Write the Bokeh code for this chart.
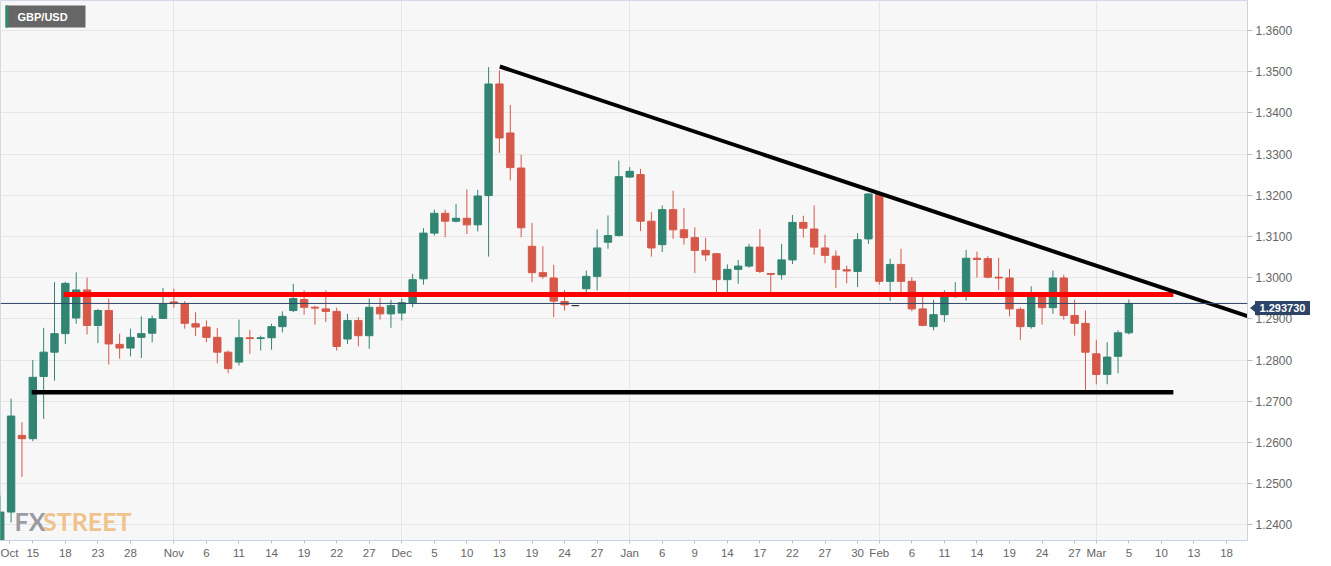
from bokeh.plotting import figure
from bokeh.models import (ColumnDataSource, FixedTicker, Label, BoxAnnotation, Span,
                          Range1d, NumeralTickFormatter, Div)
from bokeh.layouts import column
from bokeh.embed import file_html
from bokeh.resources import INLINE

# ---- data (daily candles, trading-day index) ----
opens = [1.2205, 1.2431, 1.2617, 1.2609, 1.2760, 1.2819, 1.2864, 1.2902, 1.2970, 1.2884,
         1.2920, 1.2838, 1.2829, 1.2855, 1.2865, 1.2901, 1.2941, 1.2936, 1.2888, 1.2880,
         1.2855, 1.2819, 1.2795, 1.2854, 1.2852, 1.2854, 1.2881, 1.2920, 1.2947, 1.2928,
         1.2924, 1.2918, 1.2851, 1.2896, 1.2859, 1.2928, 1.2912, 1.2914, 1.2939, 1.2997,
         1.3108, 1.3156, 1.3137, 1.3144, 1.3128, 1.3199, 1.3470, 1.3351, 1.3266, 1.3076,
         1.3012, 1.2999, 1.2942, 1.2932, 1.2973, 1.3003, 1.3086, 1.3102, 1.3244, 1.3250,
         1.3137, 1.3080, 1.3165, 1.3116, 1.3097, 1.3066, 1.3058, 1.2995, 1.3020, 1.3028,
         1.3074, 1.3010, 1.3007, 1.3043, 1.3134, 1.3118, 1.3072, 1.3052, 1.3019, 1.3015,
         1.3094, 1.3203, 1.2991, 1.3032, 1.2991, 1.2924, 1.2881, 1.2910, 1.2954, 1.2960,
         1.3047, 1.3046, 1.3001, 1.2999, 1.2923, 1.2881, 1.2954, 1.2927, 1.2999, 1.2908,
         1.2889, 1.2815, 1.2765, 1.2809, 1.2866]
highs = [1.2471, 1.2706, 1.2649, 1.2800, 1.2878, 1.2989, 1.2990, 1.3013, 1.3000, 1.2924,
         1.2949, 1.2864, 1.2876, 1.2906, 1.2908, 1.2975, 1.2973, 1.2943, 1.2916, 1.2896,
         1.2878, 1.2823, 1.2898, 1.2873, 1.2859, 1.2888, 1.2918, 1.2985, 1.2969, 1.2932,
         1.2969, 1.2927, 1.2912, 1.2904, 1.2949, 1.2951, 1.2946, 1.2949, 1.3009, 1.3120,
         1.3165, 1.3165, 1.3179, 1.3214, 1.3213, 1.3511, 1.3503, 1.3419, 1.3298, 1.3133,
         1.3076, 1.3031, 1.2970, 1.2932, 1.3017, 1.3117, 1.3151, 1.3284, 1.3268, 1.3264,
         1.3159, 1.3175, 1.3211, 1.3169, 1.3122, 1.3097, 1.3059, 1.3032, 1.3043, 1.3082,
         1.3118, 1.3011, 1.3082, 1.3152, 1.3150, 1.3175, 1.3104, 1.3066, 1.3029, 1.3108,
         1.3205, 1.3207, 1.3046, 1.3070, 1.3001, 1.2957, 1.2946, 1.2969, 1.2989, 1.3067,
         1.3063, 1.3052, 1.3048, 1.3021, 1.2928, 1.2979, 1.2965, 1.3017, 1.3007, 1.2946,
         1.2920, 1.2849, 1.2843, 1.2872, 1.2947]
lows = [1.2195, 1.2406, 1.2516, 1.2603, 1.2657, 1.2750, 1.2839, 1.2888, 1.2862, 1.2841,
        1.2789, 1.2803, 1.2809, 1.2805, 1.2843, 1.2900, 1.2927, 1.2876, 1.2858, 1.2843,
        1.2792, 1.2768, 1.2787, 1.2815, 1.2823, 1.2825, 1.2867, 1.2916, 1.2910, 1.2886,
        1.2892, 1.2823, 1.2839, 1.2833, 1.2827, 1.2898, 1.2878, 1.2896, 1.2928, 1.2983,
        1.3102, 1.3098, 1.3134, 1.3106, 1.3112, 1.3051, 1.3303, 1.3236, 1.3098, 1.2989,
        1.2997, 1.2904, 1.2920, 1.2932, 1.2965, 1.2969, 1.3070, 1.3100, 1.3242, 1.3113,
        1.3051, 1.3062, 1.3094, 1.3080, 1.3011, 1.3040, 1.2961, 1.2954, 1.2985, 1.3024,
        1.3011, 1.2965, 1.2995, 1.3033, 1.3097, 1.3056, 1.3035, 1.2975, 1.2986, 1.2977,
        1.3082, 1.2983, 1.2943, 1.2965, 1.2918, 1.2882, 1.2872, 1.2892, 1.2951, 1.2944,
        1.3000, 1.2998, 1.2970, 1.2906, 1.2849, 1.2876, 1.2886, 1.2912, 1.2898, 1.2859,
        1.2724, 1.2741, 1.2741, 1.2768, 1.2862]
closes = [1.2431, 1.2664, 1.2609, 1.2758, 1.2819, 1.2864, 1.2986, 1.2970, 1.2884, 1.2920,
          1.2839, 1.2829, 1.2855, 1.2864, 1.2900, 1.2936, 1.2937, 1.2889, 1.2880, 1.2855,
          1.2819, 1.2779, 1.2854, 1.2852, 1.2854, 1.2881, 1.2906, 1.2949, 1.2928, 1.2926,
          1.2918, 1.2833, 1.2896, 1.2859, 1.2928, 1.2912, 1.2932, 1.2939, 1.2995, 1.3108,
          1.3156, 1.3137, 1.3144, 1.3128, 1.3198, 1.3470, 1.3339, 1.3267, 1.3121, 1.3012,
          1.3003, 1.2943, 1.2934, 1.2932, 1.3003, 1.3072, 1.3102, 1.3245, 1.3258, 1.3137,
          1.3072, 1.3165, 1.3116, 1.3097, 1.3066, 1.3055, 1.2995, 1.3020, 1.3028, 1.3074,
          1.3015, 1.3008, 1.3043, 1.3134, 1.3120, 1.3074, 1.3054, 1.3020, 1.3016, 1.3092,
          1.3203, 1.2991, 1.3032, 1.2991, 1.2924, 1.2884, 1.2910, 1.2954, 1.2960, 1.3047,
          1.3044, 1.3001, 1.2999, 1.2924, 1.2881, 1.2954, 1.2927, 1.2999, 1.2908, 1.2889,
          1.2819, 1.2765, 1.2807, 1.2866, 1.29373]

x_tick_idx = [0.85, 3, 6, 9, 12, 16, 19, 22, 25, 28, 31, 34, 37, 40, 43, 46, 49, 52, 55, 58,
              61, 64, 67, 70, 73, 76, 79, 81, 84, 87, 90, 93, 96, 99, 101, 104, 107, 110, 113]
x_tick_labels = ["Oct", "15", "18", "23", "28", "Nov", "6", "11", "14", "19", "22", "27",
                 "Dec", "5", "10", "13", "19", "24", "27", "Jan", "6", "9", "14", "17", "22",
                 "27", "30", "Feb", "6", "11", "14", "19", "24", "27", "Mar", "5", "10", "13", "18"]
month_idx = [16, 37, 58, 81, 101]
y_ticks = [1.24, 1.25, 1.26, 1.27, 1.28, 1.29, 1.30, 1.31, 1.32, 1.33, 1.34, 1.35, 1.36]

# drawn analysis lines
resistance_level = 1.2959
resistance_span = [5.85, 108.1]
support_level = 1.2722
support_span = [2.9, 108.1]
trend_x = [46.03, 114.93]
trend_y = [1.35124, 1.29063]

GREEN = "#318572"
RED = "#d65848"
DOJI = "#333333"
NAVY = "#2c4466"

Y_MIN, Y_MAX = 1.23619, 1.36726
PLOT_H, FRAME_H = 566, 540

idx = list(range(len(opens)))
colors = [GREEN if c > o else (RED if c < o else DOJI) for o, c in zip(opens, closes)]
src = ColumnDataSource(dict(
    x=idx, h=highs, l=lows,
    top=[max(o, c) for o, c in zip(opens, closes)],
    bottom=[min(o, c) for o, c in zip(opens, closes)],
    color=colors))

p = figure(width=1331, height=PLOT_H, output_backend="svg", toolbar_location=None,
           x_range=Range1d(0.024, 114.93), y_range=Range1d(Y_MIN, Y_MAX),
           min_border_left=0, min_border_right=84, min_border_top=0, min_border_bottom=26,
           background_fill_color="#f7f7f7", border_fill_color="white",
           outline_line_color="#d3d9e6", y_axis_location="right")

# axes
p.yaxis.ticker = FixedTicker(ticks=y_ticks)
p.yaxis.formatter = NumeralTickFormatter(format="0.0000")
p.yaxis.major_label_text_font_size = "12px"
p.yaxis.major_label_text_font = "Liberation Sans"
p.yaxis.major_label_text_color = "#666666"
p.yaxis.major_tick_out = 5
p.yaxis.major_tick_in = 0
p.yaxis.minor_tick_line_color = None
p.yaxis.axis_line_color = "#ccd3e0"
p.yaxis.major_tick_line_color = "#b9c0cc"
p.yaxis.major_label_standoff = 3

p.xaxis.ticker = FixedTicker(ticks=x_tick_idx)
p.xaxis.major_label_overrides = {t: lab for t, lab in zip(x_tick_idx, x_tick_labels)}
p.xaxis.major_label_text_font_size = "11.5px"
p.xaxis.major_label_text_font = "Liberation Sans"
p.xaxis.major_label_text_color = "#666666"
p.xaxis.major_tick_out = 3
p.xaxis.major_tick_in = 0
p.xaxis.minor_tick_line_color = None
p.xaxis.axis_line_color = "#ccd3e0"
p.xaxis.major_tick_line_color = "#b9c0cc"
p.xaxis.major_label_standoff = 3

p.ygrid.grid_line_color = "#e6e6e6"
p.xgrid.ticker = FixedTicker(ticks=month_idx)
p.xgrid.grid_line_color = "#e6e6e6"

# candles
p.segment(x0="x", y0="h", x1="x", y1="l", line_color="color", line_width=1, source=src)
p.vbar(x="x", width=0.68, top="top", bottom="bottom", fill_color="color",
       line_color="color", line_width=1, source=src)

# current price line
p.add_layout(Span(location=closes[-1], dimension="width", line_color=NAVY, line_width=1))

# analysis lines
p.line(resistance_span, [resistance_level, resistance_level], line_color="#ff0000", line_width=5)
p.line(support_span, [support_level, support_level], line_color="#000000", line_width=4.5)
p.line(trend_x, trend_y, line_color="#000000", line_width=4)

# title tag
p.add_layout(BoxAnnotation(left=5, right=85, top=535, bottom=513,
                           left_units="screen", right_units="screen",
                           top_units="screen", bottom_units="screen",
                           fill_color="#666666", fill_alpha=1, line_color=None))
p.add_layout(BoxAnnotation(left=5, right=8, top=535, bottom=513,
                           left_units="screen", right_units="screen",
                           top_units="screen", bottom_units="screen",
                           fill_color="#2e8b6e", fill_alpha=1, line_color=None))
p.add_layout(Label(x=17, y=524, x_units="screen", y_units="screen", text="GBP/USD",
                   text_font_size="11px", text_font_style="bold", text_font="Liberation Sans",
                   text_color="white", text_baseline="middle"))

# watermark
p.add_layout(Label(x=14, y=20, x_units="screen", y_units="screen", text="FX",
                   text_font_size="25px", text_font_style="bold",
                   text_font="Lato", text_color="#9a9aa2",
                   text_baseline="alphabetic"))
p.add_layout(Label(x=42.5, y=20, x_units="screen", y_units="screen", text="STREET",
                   text_font_size="25px", text_font_style="bold",
                   text_font="Lato", text_color="#f0c38c",
                   text_baseline="alphabetic"))

# last-price tag over the right axis (HTML overlay, placed from the y scale)
tag_center = (Y_MAX - closes[-1]) / (Y_MAX - Y_MIN) * FRAME_H
tag = Div(text="%.6f" % closes[-1],
          styles={"position": "absolute", "left": "1250px",
                  "top": "%dpx" % round(tag_center - 7),
                  "width": "55px", "height": "14px", "line-height": "14px",
                  "background-color": NAVY, "color": "white",
                  "font-family": "Liberation Sans, Arial, sans-serif",
                  "font-size": "11px", "font-weight": "bold",
                  "text-align": "center", "z-index": "10"})
notch = Div(text="",
            styles={"position": "absolute", "left": "1245px",
                    "top": "%dpx" % round(tag_center - 4),
                    "width": "0px", "height": "0px",
                    "border-top": "4px solid transparent",
                    "border-bottom": "4px solid transparent",
                    "border-right": "5px solid " + NAVY, "z-index": "10"})

layout = column(p, tag, notch)
open("out.html", "w").write(file_html(layout, INLINE))
